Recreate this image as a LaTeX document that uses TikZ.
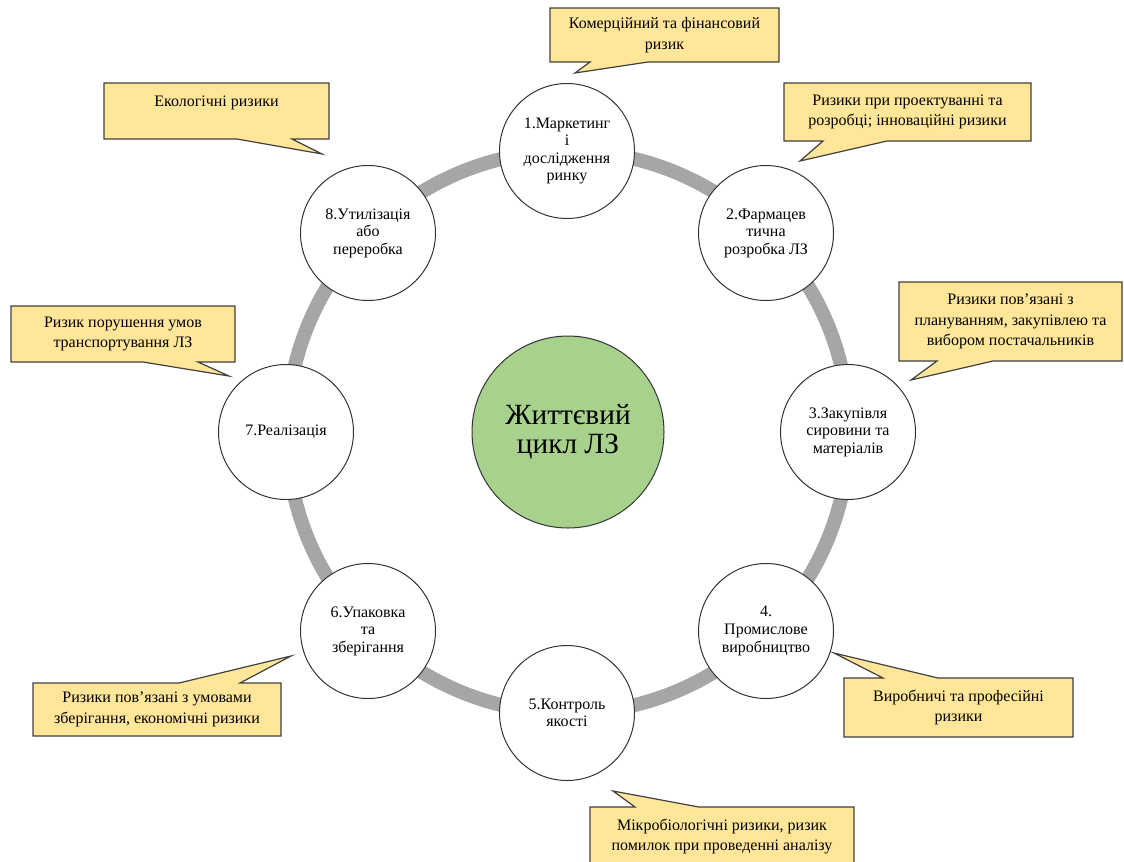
\documentclass[tikz,border=0pt]{standalone}
\usepackage{fontspec}
\setmainfont{Liberation Serif}
\usetikzlibrary{backgrounds}

\definecolor{riskfill}{HTML}{FFE699}
\definecolor{ringgray}{HTML}{A6A6A6}
\definecolor{lifegreen}{HTML}{A9D18E}

\begin{document}
\begin{tikzpicture}[x=0.75pt,y=-0.75pt]
        \tikzstyle{every node}=[font=\fontsize{12pt}{13.2pt}\selectfont]
        \tikzstyle{stage}=[circle,draw=black!80,line width=0.75pt,fill=white,minimum size=101.25pt,inner sep=0pt,align=center]
        \tikzstyle{risk}=[inner sep=0pt,outer sep=0pt,align=center,font=\fontsize{12pt}{15.4pt}\selectfont]
        \tikzstyle{riskbox}=[fill=riskfill,draw=black!75,line width=0.9pt,line join=miter]
        \useasboundingbox (0,0) rectangle (1124,861);

        %%% Cycle
        \node[circle,draw=black!80,line width=0.75pt,fill=lifegreen,minimum size=144pt,align=center,font=\fontsize{22pt}{22pt}\selectfont] (life) at (568,432) {Життєвий\\цикл ЛЗ};
        \draw[ringgray,line width=10.5pt] (life.center) circle[radius=281];

        \node[stage] (market) at (567,151) {1.Маркетинг\\і\\дослідження\\ринку};
        \node[stage] (pharm) at (766,233) {2.Фармацев\\тична\\розробка ЛЗ};
        \node[stage] (purch) at (848,432) {3.Закупівля\\сировини та\\матеріалів};
        \node[stage] (manuf) at (766,631) {4.\\Промислове\\виробництво};
        \node[stage] (qual) at (567,713) {5.Контроль\\якості};
        \node[stage] (pack) at (368,631) {6.Упаковка\\та\\зберігання};
        \node[stage] (sale) at (286,432) {7.Реалізація};
        \node[stage] (disp) at (368,233) {8.Утилізація\\або\\переробка};

        %%% Risks
        \node[risk,minimum width=171.75pt,minimum height=40.5pt] (commrisk) at (664.5,35) {Комерційний та фінансовий\\ризик};
        \node[risk,minimum width=185.25pt,minimum height=43.5pt] (designrisk) at (907.5,112) {Ризики при проектуванні та\\розробці; інноваційні ризики};
        \node[risk,minimum width=167.25pt,minimum height=59.25pt] (supplyrisk) at (1010.5,321.5) {Ризики пов’язані з\\плануванням, закупівлею та\\вибором постачальників};
        \node[risk,minimum width=171.75pt,minimum height=44.25pt] (prodrisk) at (958.5,707.5) {Виробничі та професійні\\ризики};
        \node[risk,minimum width=198pt,minimum height=44.25pt] (microrisk) at (722,836.5) {Мікробіологічні ризики, ризик\\помилок при проведенні аналізу};
        \node[risk,minimum width=186pt,minimum height=39.75pt] (storerisk) at (157,709.5) {Ризики пов’язані з умовами\\зберігання, економічні ризики};
        \node[risk,minimum width=168pt,minimum height=42pt] (transrisk) at (123,334) {Ризик порушення умов\\транспортування ЛЗ};
        \node[risk,minimum width=168.75pt,minimum height=42pt] (ecorisk) at (216.5,111) {Екологічні ризики\\\mbox{}};

        \begin{scope}[on background layer]
            \draw[riskbox] (commrisk.north west) -- (commrisk.north east) -- (commrisk.south east) -- (648,62) -- (575,73) -- (590,62) -- (commrisk.south west) -- cycle;
            \draw[riskbox] (designrisk.north west) -- (designrisk.north east) -- (designrisk.south east) -- (887,141) -- (800,161) -- (823,141) -- (designrisk.south west) -- cycle;
            \draw[riskbox] (supplyrisk.north west) -- (supplyrisk.north east) -- (supplyrisk.south east) -- (993,361) -- (911,380) -- (937,361) -- (supplyrisk.south west) -- cycle;
            \draw[riskbox] (prodrisk.north west) -- (883,678) -- (834,653) -- (938,678) -- (prodrisk.north east) -- (prodrisk.south east) -- (prodrisk.south west) -- cycle;
            \draw[riskbox] (microrisk.north west) -- (635,807) -- (613,791) -- (699,807) -- (microrisk.north east) -- (microrisk.south east) -- (microrisk.south west) -- cycle;
            \draw[riskbox] (storerisk.north west) -- (179,683) -- (291,656) -- (240,683) -- (storerisk.north east) -- (storerisk.south east) -- (storerisk.south west) -- cycle;
            \draw[riskbox] (transrisk.north west) -- (transrisk.north east) -- (transrisk.south east) -- (198,362) -- (229,376) -- (143,362) -- (transrisk.south west) -- cycle;
            \draw[riskbox] (ecorisk.north west) -- (ecorisk.north east) -- (ecorisk.south east) -- (292,139) -- (322,154) -- (237,139) -- (ecorisk.south west) -- cycle;
        \end{scope}
\end{tikzpicture}
\end{document}
